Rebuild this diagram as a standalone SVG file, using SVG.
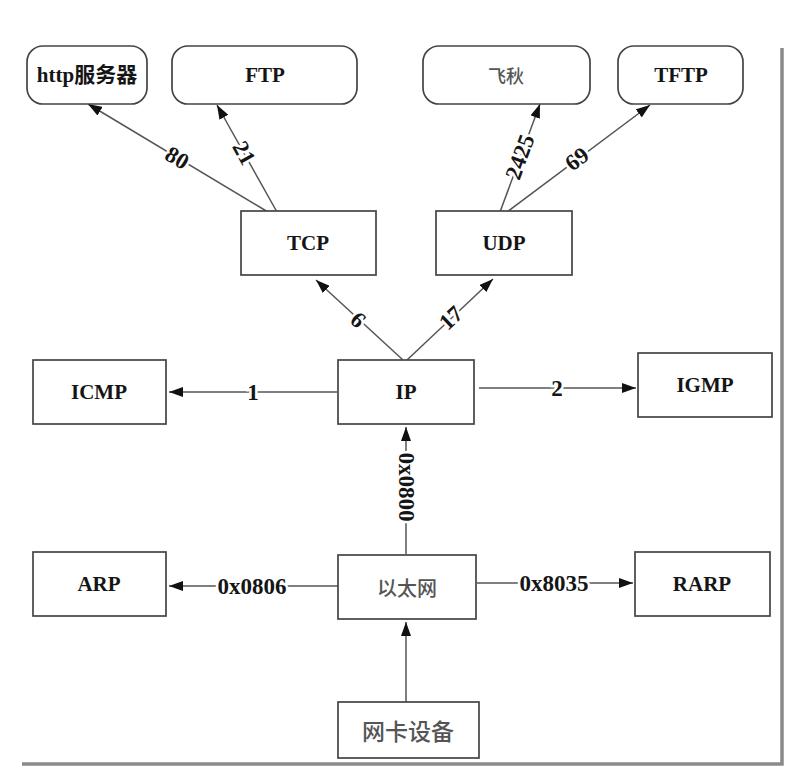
<svg xmlns="http://www.w3.org/2000/svg" width="789" height="770" viewBox="0 0 789 770">
  <style>
    .box { fill: #fff; stroke: #444; stroke-width: 1.7; }
    .name { font-family: "Liberation Serif", "Noto Sans CJK SC", serif; font-weight: bold; font-size: 21px; fill: #151515; text-anchor: middle; dominant-baseline: central; }
    .cjk { font-family: "Noto Sans CJK SC", sans-serif; font-weight: 500; fill: #555; text-anchor: middle; dominant-baseline: central; }
    .edge { fill: none; stroke: #555; stroke-width: 1.5; marker-end: url(#head); }
    .lbl { font-family: "Liberation Serif", serif; font-weight: bold; font-size: 23px; fill: #151515; text-anchor: middle; dominant-baseline: central; stroke: #fff; stroke-width: 5; paint-order: stroke; }
    .frame { stroke: #8a8a8a; stroke-width: 3.5; fill: none; }
  </style>
  <defs>
    <marker id="head" viewBox="0 0 14 10" refX="14" refY="5" markerWidth="14" markerHeight="10" markerUnits="userSpaceOnUse" orient="auto">
      <path d="M0,0 L14,5 L0,10 Z" fill="#111"/>
    </marker>
  </defs>

  <rect width="789" height="770" fill="#fff"/>

  <!-- page edge shadow -->
  <polyline class="frame" points="782,48 782,764 22,764"/>

  <!-- connectors -->
  <g id="connectors">
    <line class="edge" x1="268" y1="212" x2="88" y2="104"/>
    <line class="edge" x1="277" y1="212" x2="217" y2="105"/>
    <line class="edge" x1="500" y1="212" x2="540" y2="104"/>
    <line class="edge" x1="507" y1="212" x2="650" y2="105"/>
    <line class="edge" x1="403" y1="360" x2="316" y2="280"/>
    <line class="edge" x1="407" y1="360" x2="493" y2="279"/>
    <line class="edge" x1="337" y1="392" x2="169" y2="392"/>
    <line class="edge" x1="479" y1="388" x2="636" y2="388"/>
    <line class="edge" x1="406" y1="554" x2="406" y2="427"/>
    <line class="edge" x1="338" y1="586" x2="169" y2="586"/>
    <line class="edge" x1="477" y1="583" x2="633" y2="583"/>
    <line class="edge" x1="406" y1="702" x2="406" y2="622"/>

    <text class="lbl" transform="translate(177,158) rotate(31)">80</text>
    <text class="lbl" transform="translate(244,153) rotate(61)">21</text>
    <text class="lbl" transform="translate(520,157) rotate(-70)">2425</text>
    <text class="lbl" transform="translate(577,159) rotate(-37)">69</text>
    <text class="lbl" transform="translate(358,320) rotate(43)">6</text>
    <text class="lbl" transform="translate(451,318) rotate(-43)">17</text>
    <text class="lbl" x="253" y="392">1</text>
    <text class="lbl" x="557" y="388">2</text>
    <text class="lbl" transform="translate(406,487) rotate(90)" font-size="24">0x0800</text>
    <text class="lbl" x="252" y="586" font-size="25">0x0806</text>
    <text class="lbl" x="554" y="583" font-size="25">0x8035</text>
  </g>

  <!-- application layer -->
  <g id="http">
    <rect class="box" x="27" y="46" width="120" height="58" rx="16"/>
    <text class="name" x="87" y="75" font-size="19">http服务器</text>
  </g>
  <g id="ftp">
    <rect class="box" x="172" y="46" width="185" height="58" rx="16"/>
    <text class="name" x="265" y="75">FTP</text>
  </g>
  <g id="feiqiu">
    <rect class="box" x="423" y="46" width="167" height="58" rx="16"/>
    <text class="cjk" x="506" y="75" font-size="18">飞秋</text>
  </g>
  <g id="tftp">
    <rect class="box" x="618" y="46" width="125" height="58" rx="16"/>
    <text class="name" x="681" y="75">TFTP</text>
  </g>

  <!-- transport layer -->
  <g id="tcp">
    <rect class="box" x="241" y="211" width="135" height="64"/>
    <text class="name" x="308" y="243">TCP</text>
  </g>
  <g id="udp">
    <rect class="box" x="436" y="211" width="136" height="64"/>
    <text class="name" x="504" y="243">UDP</text>
  </g>

  <!-- network layer -->
  <g id="icmp">
    <rect class="box" x="33" y="360" width="133" height="64"/>
    <text class="name" x="99" y="392">ICMP</text>
  </g>
  <g id="ip">
    <rect class="box" x="338" y="360" width="136" height="64"/>
    <text class="name" x="406" y="392">IP</text>
  </g>
  <g id="igmp">
    <rect class="box" x="638" y="353" width="134" height="64"/>
    <text class="name" x="705" y="385">IGMP</text>
  </g>

  <!-- link layer -->
  <g id="arp">
    <rect class="box" x="33" y="552" width="133" height="64"/>
    <text class="name" x="99" y="584">ARP</text>
  </g>
  <g id="ethernet">
    <rect class="box" x="338" y="555" width="138" height="64"/>
    <text class="cjk" x="407" y="587" font-size="20">以太网</text>
  </g>
  <g id="rarp">
    <rect class="box" x="635" y="552" width="135" height="64"/>
    <text class="name" x="702" y="584">RARP</text>
  </g>

  <!-- device -->
  <g id="nic">
    <rect class="box" x="338" y="702" width="141" height="56"/>
    <text class="cjk" x="408" y="730" font-size="23" fill="#6a6a6a">网卡设备</text>
  </g>
</svg>
